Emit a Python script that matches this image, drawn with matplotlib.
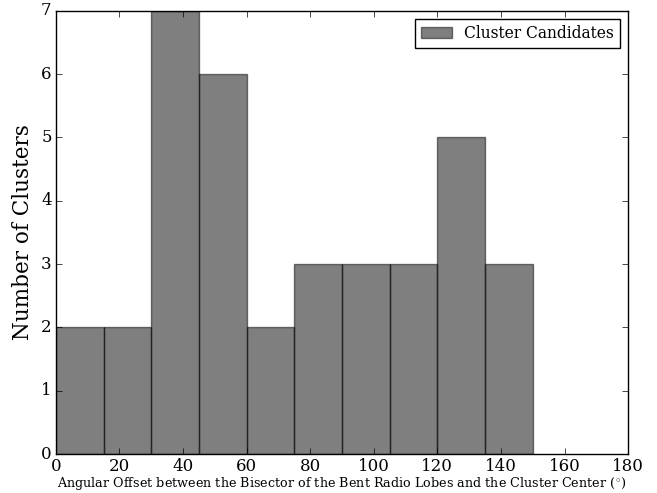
import numpy as np
import matplotlib
matplotlib.use("Agg")
import matplotlib.pyplot as plt

# histogram bin edges (degrees) and counts per bin
bin_edges = [0, 15, 30, 45, 60, 75, 90, 105, 120, 135, 150]
counts = [2, 2, 7, 6, 2, 3, 3, 3, 5, 3]

plt.style.use('classic')
plt.rcParams['font.family'] = 'DejaVu Serif'

fig = plt.figure(figsize=(6.57, 4.93), dpi=100, facecolor='white')
ax = fig.add_axes([0.085, 0.079, 0.871, 0.899])

centers = np.array(bin_edges[:-1]) + 7.5
ax.hist(centers, bins=bin_edges, weights=counts, color='k', alpha=0.5,
        linewidth=1.0, label='Cluster Candidates')

ax.set_xlim(0, 180)
ax.set_ylim(0, 7)
ax.set_xticks(np.arange(0, 181, 20))
ax.set_yticks(np.arange(0, 8, 1))
ax.tick_params(labelsize=12, pad=3)
ax.set_xlabel('Angular Offset between the Bisector of the Bent Radio Lobes and the Cluster Center ($^{\\circ}$)',
              fontsize=9.2, labelpad=0)
ax.set_ylabel('Number of Clusters', fontsize=15.5)
ax.legend(loc='upper right', fontsize=11.2, frameon=True)

fig.savefig('out.png', dpi=100, facecolor='white')
